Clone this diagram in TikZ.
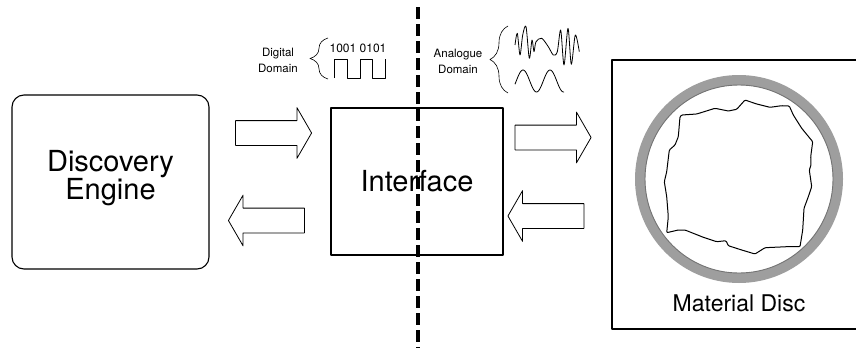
\documentclass[tikz,border=0pt]{standalone}
\usepackage{fontspec}
\setmainfont{TeX Gyre Heros}
\usetikzlibrary{positioning,shapes.arrows,decorations.pathreplacing}

\begin{document}
\begin{tikzpicture}[x=1pt, y=-1pt, line join=round,
	box/.style={draw, line width=1.1pt, inner sep=0pt},
	big/.style={font=\fontsize{29}{27}\selectfont, align=center},
	blk/.style={single arrow, draw, fill=white, line width=0.8pt, inner xsep=0pt, inner ysep=12pt, minimum height=76pt, single arrow head extend=13pt, single arrow tip angle=120},
	dom/.style={align=center, font=\fontsize{11.5}{16}\selectfont},
	brc/.style={decorate, decoration={brace, amplitude=18pt}, line width=0.6pt}]
	\clip (0,0) rectangle (856,348);
	% the three blocks
	\node[box, rounded corners=12pt, minimum width=197pt, minimum height=174pt] (engine) at (110.5,182) {};
	\node[big] (enginetxt) at (110.5,178) {Discovery\\Engine};
	\node[box, minimum width=172pt, minimum height=147pt, big] (iface) at (417,181.5) {Interface};
	\node[box, minimum width=258pt, minimum height=269pt] (discbox) at (741,194.5) {};
	% block arrows between them
	\node[blk] (e2i) at (270,133) {};
	\node[blk, shape border rotate=180] (i2e) at (270,220.5) {};
	\node[blk] (i2d) at (549.5,137.5) {};
	\node[blk, shape border rotate=180] (d2i) at (549.5,216) {};
	% the disc: grey rim and a rough sample outline
	\coordinate (disc) at (739,179);
	\draw[black!38, line width=10pt] (disc) circle[radius=99];
	\draw[black!55, line width=0.9pt] (disc) circle[radius=94];
	\draw[line width=1pt, rounded corners=1pt] plot coordinates {(681.7,115) (696.7,114) (715,108.3) (728.3,111) (736.7,109.3) (745,100) (756.7,104) (770,107.3) (781.7,105.7) (789.3,106) (793.3,115) (801.7,128.3) (812.7,141.7) (810.7,156.7) (811,165) (809.3,170) (811.7,186.7) (808.3,196.7) (804,208.3) (802.7,230) (800,246.7) (786.7,246.7) (765,247.7) (755,254) (741.7,250) (728.3,245.7) (726,240.7) (716.7,241.7) (703.3,237.3) (685,230) (678.3,230) (666.7,232.7) (668.3,216.7) (666.7,196.7) (664.3,181.7) (666.7,171.7) (669.3,150) (675,145) (678.3,136.7) (680,116.7)} -- cycle;
	\node[font=\fontsize{23}{23}\selectfont] (disclbl) at (739,303) {Material Disc};
	% digital side
	\node[dom] (digital) at (278,60) {Digital\\Domain};
	\draw[brc] (328,79) -- (328,38);
	\node[font=\fontsize{12}{12}\selectfont] (bits) at (358,48) {1001 0101};
	\draw[line width=0.7pt] (334,78) |- (347,59) |- (360,78) |- (372,59) |- (385,78) -- (385,59);
	% analogue side
	\node[dom] (analogue) at (458,61) {Analogue\\Domain};
	\draw[brc] (508,93) -- (508,26);
	\draw[line width=0.8pt] plot[smooth, tension=0.5] coordinates {(515,45) (517.3,33.3) (520,55) (522.7,35) (526,26.7) (529.3,58.3) (532,40) (534,51.7) (536,41.7) (541.7,38.3) (548.3,46.7) (553.3,55) (557.3,51.7) (560.7,30) (564,65) (568,28.3) (571.3,64.3) (575.3,35) (579.3,51.7)};
	\draw[line width=0.8pt] plot[domain=0:49, samples=80, smooth] ({515+\x},{81-11*cos(360*(\x-8)/27)});
	% dividing line
	\coordinate (divtop) at (418,7);
	\coordinate (divbot) at (418,348);
	\draw[line width=3.2pt, dash pattern=on 12pt off 5pt] (divtop) -- (divbot);
\end{tikzpicture}
\end{document}
